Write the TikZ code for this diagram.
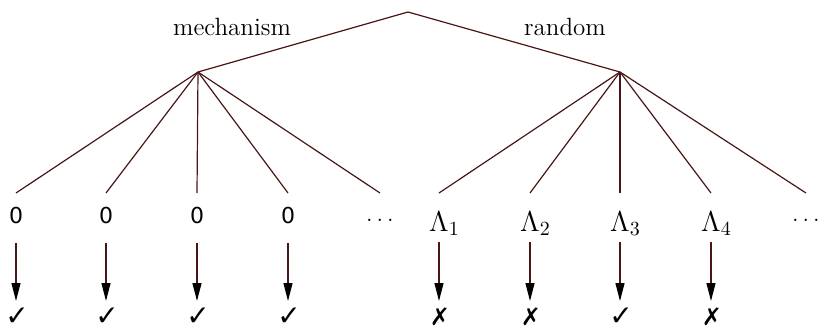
\documentclass[tikz,border=0pt]{standalone}
\usepackage{fontspec}
\newfontfamily\symfont{DejaVu Sans}
\usetikzlibrary{arrows.meta}
\definecolor{edge}{HTML}{4A1515}
\begin{document}
\begin{tikzpicture}[x=0.5pt,y=-0.5pt,
  edgeline/.style={draw=edge, line width=0.6pt},
  label/.style={font=\fontsize{12.5}{14}\selectfont, anchor=base},
  zeroleaf/.style={anchor=north, inner xsep=0pt, inner ysep=7.5pt, text height=7.5pt, text depth=0pt, font=\symfont\fontsize{11}{12}\selectfont},
  lamleaf/.style={anchor=north, inner xsep=0pt, inner ysep=9.5pt, text height=9.6pt, text depth=0pt, font=\fontsize{14}{16}\selectfont},
  dotsleaf/.style={anchor=north, inner xsep=0pt, inner ysep=13pt, text height=1pt, text depth=0pt, font=\fontsize{12.5}{14}\selectfont},
  verdict/.style={anchor=north, inner xsep=0pt, inner ysep=4pt, text height=8pt, text depth=0pt, font=\symfont\fontsize{14}{16}\selectfont},
  crossmark/.style={verdict, inner ysep=5.5pt, text height=6.5pt, font=\symfont\fontsize{12}{14}\selectfont},
  pointer/.style={draw=edge, line width=0.6pt, -{Triangle[length=9pt,width=4.5pt,color=black]}}
]
\useasboundingbox (0,0) rectangle (821,334);

\coordinate (root) at (408,12);
\coordinate (mech) at (198,72);
\coordinate (rand) at (620,72);

\node[label] (lm) at (232,35) {mechanism};
\node[label] (lr) at (565,35) {random};

\node[zeroleaf] (z1) at (16,193) {0};
\node[zeroleaf] (z2) at (106,193) {0};
\node[zeroleaf] (z3) at (197,193) {0};
\node[zeroleaf] (z4) at (288,193) {0};
\node[dotsleaf] (d1) at (380,193) {$\ldots$};

\node[lamleaf] (l1) at (439,193) {$\Lambda\rlap{$_1$}$};
\node[lamleaf] (l2) at (530,193) {$\Lambda\rlap{$_2$}$};
\node[lamleaf] (l3) at (620,193) {$\Lambda\rlap{$_3$}$};
\node[lamleaf] (l4) at (711,193) {$\Lambda\rlap{$_4$}$};
\node[dotsleaf] (d2) at (806,193) {$\ldots$};

\draw[edgeline] (mech) -- (root) -- (rand);
\foreach \n in {z1,z2,z3,z4,d1} \draw[edgeline] (mech) -- (\n.north);
\foreach \n in {l1,l2,l3,l4,d2} \draw[edgeline] (rand) -- (\n.north);

\node[verdict] (c1) at (17,301) {✓};
\node[verdict] (c2) at (107,301) {✓};
\node[verdict] (c3) at (198,301) {✓};
\node[verdict] (c4) at (289,301) {✓};
\node[crossmark] (c5) at (440,301) {✗};
\node[crossmark] (c6) at (531,301) {✗};
\node[verdict] (c7) at (621,301) {✓};
\node[crossmark] (c8) at (712,301) {✗};

\foreach \a/\b in {z1/c1,z2/c2,z3/c3,z4/c4}
  \draw[pointer, shorten <=2pt] (\a.south) -- (\b.north -| \a.south);
\foreach \a/\b in {l1/c5,l2/c6,l3/c7,l4/c8}
  \draw[pointer, shorten <=-4.5pt] (\a.south) -- (\b.north -| \a.south);
\end{tikzpicture}
\end{document}
